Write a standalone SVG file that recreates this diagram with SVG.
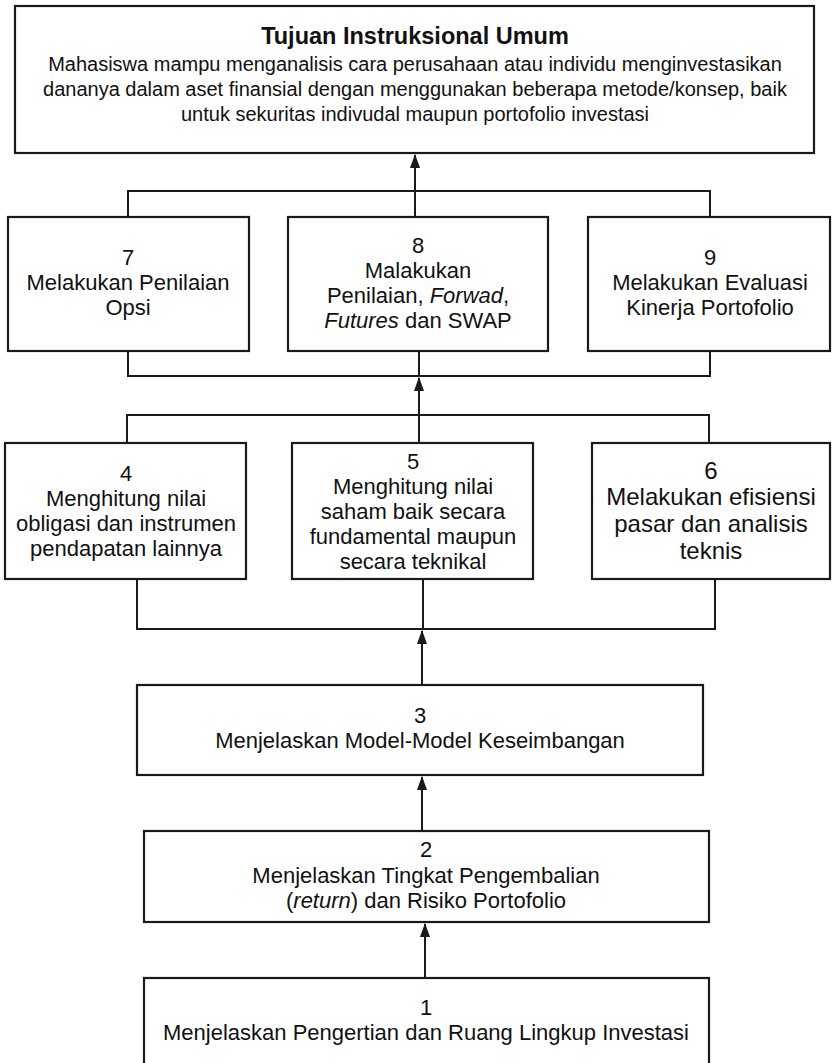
<svg xmlns="http://www.w3.org/2000/svg" width="832" height="1063" viewBox="0 0 832 1063">
<style>
.box{fill:#fff;stroke:#1a1a1a;stroke-width:2.2}
.t{font-family:"Liberation Sans",Arial,sans-serif;font-size:22px;fill:#111;text-anchor:middle}
.b{font-size:20px}
.h{font-weight:bold;font-size:23.5px}
.big{font-size:24px}
.c{fill:none;stroke:#1a1a1a;stroke-width:2}
</style>
<defs>
<marker id="ah" markerUnits="userSpaceOnUse" markerWidth="14" markerHeight="10" refX="13" refY="5" orient="auto" viewBox="0 0 14 10">
<path d="M0,0 L14,5 L0,10 Z" fill="#1a1a1a"/>
</marker>
</defs>
<rect width="832" height="1063" fill="#fff"/>
<g id="connectors">
<path class="c" d="M128 217 V191 H710 V217"/>
<line class="c" x1="415" y1="217" x2="415" y2="155" marker-end="url(#ah)"/>
<path class="c" d="M128 351 V376 H710 V351 M419 351 V376"/>
<path class="c" d="M127 443 V415 H709 V443 M419 443 V415"/>
<line class="c" x1="419" y1="415" x2="419" y2="378" marker-end="url(#ah)"/>
<path class="c" d="M137 579 V629 H715 V579 M423 579 V629"/>
<line class="c" x1="422" y1="685" x2="422" y2="631" marker-end="url(#ah)"/>
<line class="c" x1="422" y1="831" x2="422" y2="777" marker-end="url(#ah)"/>
<line class="c" x1="425" y1="978" x2="425" y2="924" marker-end="url(#ah)"/>
</g>
<g id="tiu">
<rect class="box" x="15" y="6" width="799" height="147"/>
<text class="t h" x="415" y="44">Tujuan Instruksional Umum</text>
<text class="t b" x="415" y="71">Mahasiswa mampu menganalisis cara perusahaan atau individu menginvestasikan</text>
<text class="t b" x="415" y="96">dananya dalam aset finansial dengan menggunakan beberapa metode/konsep, baik</text>
<text class="t b" x="415" y="121">untuk sekuritas indivudal maupun portofolio investasi</text>
</g>
<g id="n7">
<rect class="box" x="8" y="217" width="241" height="134"/>
<text class="t" x="128" y="265">7</text>
<text class="t" x="128" y="290">Melakukan Penilaian</text>
<text class="t" x="128" y="315">Opsi</text>
</g>
<g id="n8">
<rect class="box" x="288" y="217" width="260" height="134"/>
<text class="t" x="418" y="253">8</text>
<text class="t" x="418" y="278">Malakukan</text>
<text class="t" x="418" y="303">Penilaian, <tspan font-style="italic">Forwad</tspan>,</text>
<text class="t" x="418" y="328"><tspan font-style="italic">Futures</tspan> dan SWAP</text>
</g>
<g id="n9">
<rect class="box" x="588" y="217" width="242" height="134"/>
<text class="t" x="710" y="265">9</text>
<text class="t" x="710" y="290">Melakukan Evaluasi</text>
<text class="t" x="710" y="315">Kinerja Portofolio</text>
</g>
<g id="n4">
<rect class="box" x="5" y="443" width="241" height="136"/>
<text class="t" x="126" y="481">4</text>
<text class="t" x="126" y="506">Menghitung nilai</text>
<text class="t" x="126" y="531">obligasi dan instrumen</text>
<text class="t" x="126" y="556">pendapatan lainnya</text>
</g>
<g id="n5">
<rect class="box" x="292" y="443" width="241" height="136"/>
<text class="t" x="413" y="469">5</text>
<text class="t" x="413" y="494">Menghitung nilai</text>
<text class="t" x="413" y="519">saham baik secara</text>
<text class="t" x="413" y="544">fundamental maupun</text>
<text class="t" x="413" y="569">secara teknikal</text>
</g>
<g id="n6">
<rect class="box" x="592" y="443" width="238" height="136"/>
<text class="t big" x="711" y="479">6</text>
<text class="t big" x="711" y="505">Melakukan efisiensi</text>
<text class="t big" x="711" y="532">pasar dan analisis</text>
<text class="t big" x="711" y="559">teknis</text>
</g>
<g id="n3">
<rect class="box" x="137" y="685" width="566" height="90"/>
<text class="t" x="420" y="723">3</text>
<text class="t" x="420" y="748">Menjelaskan Model-Model Keseimbangan</text>
</g>
<g id="n2">
<rect class="box" x="144" y="831" width="565" height="91"/>
<text class="t" x="426" y="857">2</text>
<text class="t" x="426" y="883">Menjelaskan Tingkat Pengembalian</text>
<text class="t" x="426" y="908">(<tspan font-style="italic">return</tspan>) dan Risiko Portofolio</text>
</g>
<g id="n1">
<rect class="box" x="144" y="978" width="565" height="100"/>
<text class="t" x="426" y="1015">1</text>
<text class="t" x="426" y="1040">Menjelaskan Pengertian dan Ruang Lingkup Investasi</text>
</g>
</svg>
